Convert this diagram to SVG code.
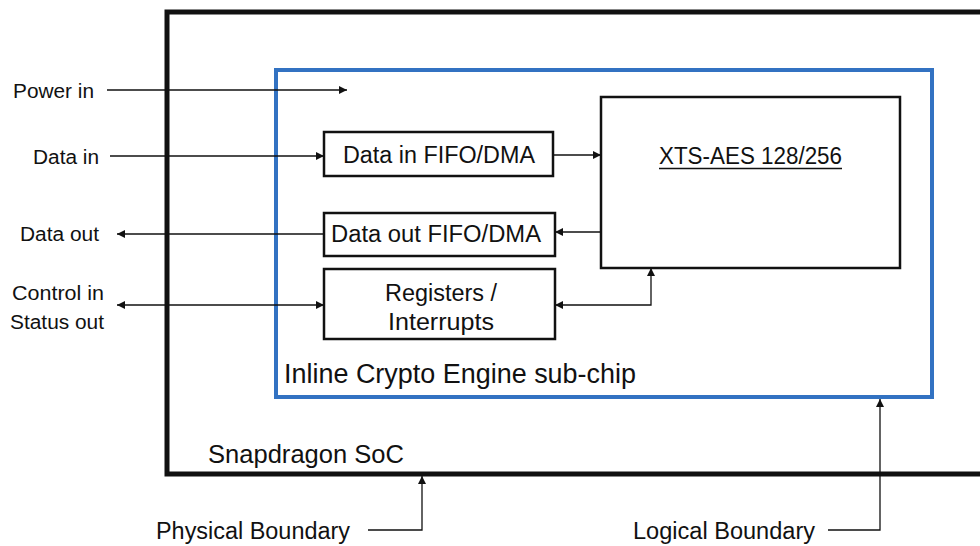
<svg xmlns="http://www.w3.org/2000/svg" width="980" height="546" viewBox="0 0 980 546">
<style>
.t{font-family:"Liberation Sans",Arial,sans-serif;fill:#111}
.s20{font-size:20px}
.s23{font-size:23px}
.s25{font-size:25px}
.s27{font-size:27px}
.b{fill:#fff;stroke:#111;stroke-width:2.5}
.c{fill:none;stroke:#111;stroke-width:1.3}
</style>
<defs>
<marker id="ah" viewBox="0 0 10 10" refX="10" refY="5" markerWidth="9" markerHeight="8" markerUnits="userSpaceOnUse" orient="auto-start-reverse"><path d="M0,0 L10,5 L0,10 z" fill="#111"/></marker>
</defs>
<rect width="980" height="546" fill="#fff"/>
<g id="soc">
<path d="M990,12 H167 V474 H990" fill="none" stroke="#111" stroke-width="5"/>
<text class="t s25" x="208" y="463" textLength="196" lengthAdjust="spacingAndGlyphs">Snapdragon SoC</text>
</g>
<g id="ice">
<rect x="276" y="70" width="656" height="327" fill="none" stroke="#3272c2" stroke-width="4"/>
<text class="t s27" x="284" y="383" textLength="352" lengthAdjust="spacingAndGlyphs">Inline Crypto Engine sub-chip</text>
</g>
<g id="datainfifo">
<rect class="b" x="324" y="132" width="229" height="44"/>
<text class="t s23" x="343" y="163" textLength="192" lengthAdjust="spacingAndGlyphs">Data in FIFO/DMA</text>
</g>
<g id="dataoutfifo">
<rect class="b" x="324" y="213" width="231" height="43"/>
<text class="t s23" x="331" y="242" textLength="210" lengthAdjust="spacingAndGlyphs">Data out FIFO/DMA</text>
</g>
<g id="registers">
<rect class="b" x="324" y="269" width="231" height="70"/>
<text class="t s23" x="385" y="301" textLength="112" lengthAdjust="spacingAndGlyphs">Registers /</text>
<text class="t s23" x="388" y="330" textLength="106" lengthAdjust="spacingAndGlyphs">Interrupts</text>
</g>
<g id="xts">
<rect class="b" x="601" y="97" width="299" height="171"/>
<text class="t s23" x="659" y="164" textLength="183" lengthAdjust="spacingAndGlyphs">XTS-AES 128/256</text>
<line x1="659" y1="168.5" x2="842" y2="168.5" stroke="#111" stroke-width="1.5"/>
</g>
<g id="labels">
<text class="t s20" x="13" y="98" textLength="81" lengthAdjust="spacingAndGlyphs">Power in</text>
<text class="t s20" x="33" y="164" textLength="66" lengthAdjust="spacingAndGlyphs">Data in</text>
<text class="t s20" x="20" y="241" textLength="79" lengthAdjust="spacingAndGlyphs">Data out</text>
<text class="t s20" x="12" y="300" textLength="92" lengthAdjust="spacingAndGlyphs">Control in</text>
<text class="t s20" x="10" y="329" textLength="94" lengthAdjust="spacingAndGlyphs">Status out</text>
<text class="t s23" x="156" y="539" textLength="194" lengthAdjust="spacingAndGlyphs">Physical Boundary</text>
<text class="t s23" x="633" y="539" textLength="182" lengthAdjust="spacingAndGlyphs">Logical Boundary</text>
</g>
<g id="connectors">
<line class="c" x1="107" y1="90" x2="347" y2="90" marker-end="url(#ah)"/>
<line class="c" x1="110" y1="156" x2="324" y2="156" marker-end="url(#ah)"/>
<line class="c" x1="324" y1="234" x2="117" y2="234" marker-end="url(#ah)"/>
<line class="c" x1="117" y1="305" x2="324" y2="305" marker-start="url(#ah)" marker-end="url(#ah)"/>
<line class="c" x1="553" y1="155" x2="601" y2="155" marker-end="url(#ah)"/>
<line class="c" x1="601" y1="232" x2="555" y2="232" marker-end="url(#ah)"/>
<path class="c" d="M555,305 H651 V268" marker-start="url(#ah)" marker-end="url(#ah)"/>
<path class="c" d="M368,530 H422 V476" marker-end="url(#ah)"/>
<path class="c" d="M828,530 H880 V399" marker-end="url(#ah)"/>
</g>
</svg>
